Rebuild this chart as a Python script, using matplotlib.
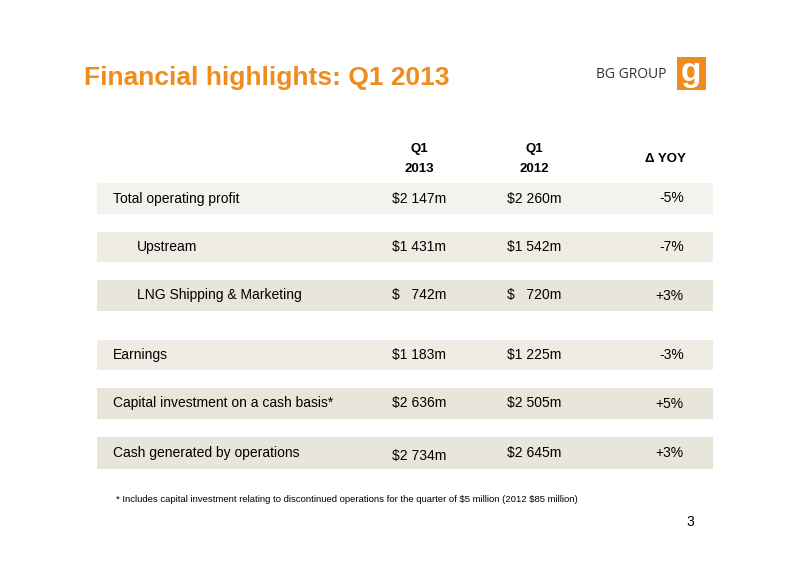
import matplotlib
matplotlib.use("Agg")
import matplotlib.pyplot as plt
from matplotlib.patches import Rectangle

plt.rcParams['font.family'] = ['Liberation Sans', 'DejaVu Sans']
plt.rcParams['text.parse_math'] = False

labels = ["Total operating profit", "Upstream", "LNG Shipping & Marketing",
          "Earnings", "Capital investment on a cash basis*", "Cash generated by operations"]
q1_2013 = ["$2 147m", "$1 431m", "$   742m", "$1 183m", "$2 636m", "$2 734m"]
q1_2012 = ["$2 260m", "$1 542m", "$   720m", "$1 225m", "$2 505m", "$2 645m"]
yoy = ["-5%", "-7%", "+3%", "-3%", "+5%", "+3%"]
headers = ["Q1\n2013", "Q1\n2012", "Δ YOY"]

fig = plt.figure(figsize=(8, 5.65), dpi=100)
ax = fig.add_axes([0, 0, 1, 1])
ax.set_xlim(0, 800); ax.set_ylim(565, 0); ax.axis("off")

orange = "#f08c1e"
ax.text(84, 78, "Financial highlights: Q1 2013", fontsize=19, fontweight="bold",
        color=orange, va="center", ha="left")
ax.text(667, 75, "BG GROUP", fontsize=10, color="#333333", va="center", ha="right",
        family="Open Sans")
ax.add_patch(Rectangle((677, 57), 29, 33, color=orange, lw=0))
ax.text(691, 72, "g", fontsize=24, color="white", fontweight="bold", ha="center", va="center")

ax.text(419, 159, headers[0], fontsize=9.5, fontweight="bold", ha="center", va="center", linespacing=1.9)
ax.text(534, 159, headers[1], fontsize=9.5, fontweight="bold", ha="center", va="center", linespacing=1.9)
ax.text(665, 159, headers[2], fontsize=9.5, fontweight="bold", ha="center", va="center")

rows = [(183, 214), (232, 262), (280, 311), (340, 370), (388, 419), (437, 469)]
colors = ["#f4f2ec", "#efece4", "#e8e5da", "#efece4", "#e8e5da", "#e8e5da"]
indent = [113, 137, 137, 113, 113, 113]
for i, (y0, y1) in enumerate(rows):
    ax.add_patch(Rectangle((97, y0), 616, y1 - y0, color=colors[i], lw=0))
    yc = (y0 + y1) / 2
    ax.text(indent[i], yc, labels[i], fontsize=10, va="center", ha="left")
    dy = 3 if i == 5 else 0
    ax.text(419, yc + dy, q1_2013[i], fontsize=10, va="center", ha="center")
    ax.text(534, yc, q1_2012[i], fontsize=10, va="center", ha="center")
    ax.text(684, yc, yoy[i], fontsize=10, va="center", ha="right")

ax.text(116, 500, "* Includes capital investment relating to discontinued operations for the quarter of $5 million (2012 $85 million)",
        fontsize=6.8, va="center", ha="left")
ax.text(690, 522, "3", fontsize=10, va="center", ha="center")

fig.savefig("out.png", dpi=100)
